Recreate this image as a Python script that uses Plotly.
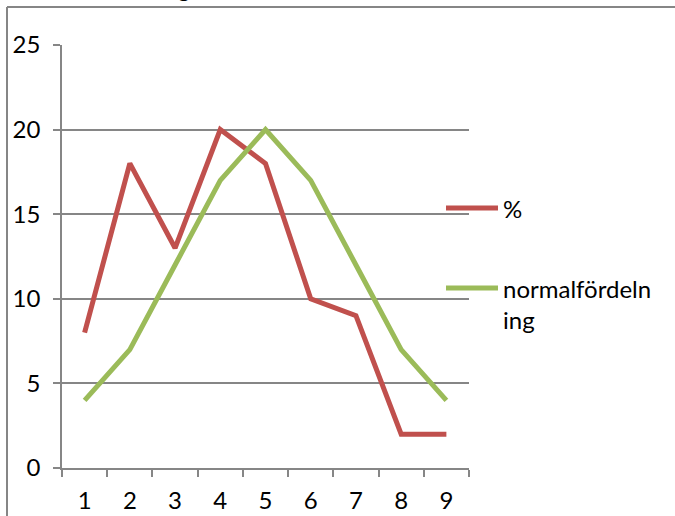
import plotly.graph_objects as go

categories = ["1", "2", "3", "4", "5", "6", "7", "8", "9"]
pct_values = [8, 18, 13, 20, 18, 10, 9, 2, 2]
normal_values = [4, 7, 12, 17, 20, 17, 12, 7, 4]
series_names = ["%", "normalfördeln<br>ing"]
title_text = "Fördelning"

RED = "#C0504D"
GREEN = "#9BBB59"
GRID = "#868686"
FONT = "Lato, Carlito, Calibri, sans-serif"
FS = 24
LW = 5

W, H = 675, 516
L, R, T, B = 62, 469, 45, 468

fig = go.Figure()
fig.add_trace(go.Scatter(x=categories, y=pct_values, mode="lines", name=series_names[0],
                         line=dict(color=RED, width=LW), showlegend=False))
fig.add_trace(go.Scatter(x=categories, y=normal_values, mode="lines", name=series_names[1],
                         line=dict(color=GREEN, width=LW), showlegend=False))

# pixel -> paper (paper is relative to plot area)
def px(x):
    return (x - L) / (R - L)
def py(y):
    return (B - y) / (B - T)

legend_items = [(series_names[0], RED, 208), (series_names[1], GREEN, 288)]
for name, color, yy in legend_items:
    fig.add_shape(type="line", xref="paper", yref="paper",
                  x0=px(446), x1=px(498), y0=py(yy), y1=py(yy),
                  line=dict(color=color, width=LW))
    fig.add_annotation(xref="paper", yref="paper", x=px(501), y=py(yy - 16),
                       xanchor="left", yanchor="top", text=name, showarrow=False,
                       align="left", font=dict(family=FONT, size=FS, color="#000000"))

# outer frame (left + top)
fig.add_shape(type="line", xref="paper", yref="paper", x0=px(7), x1=px(7), y0=py(H + 5), y1=py(7),
              line=dict(color=GRID, width=2))
fig.add_shape(type="line", xref="paper", yref="paper", x0=px(7), x1=px(W + 5), y0=py(7), y1=py(7),
              line=dict(color=GRID, width=2))

# cut-off title (only its descender is visible, as in the reference)
fig.add_annotation(xref="paper", yref="paper", x=px(192), y=py(-13), xanchor="right",
                   yanchor="middle", text=title_text, showarrow=False,
                   font=dict(family=FONT, size=FS, color="#000000"))

fig.update_layout(
    width=W, height=H,
    margin=dict(l=L, r=W - R, t=T, b=H - B, pad=0, autoexpand=False),
    paper_bgcolor="white", plot_bgcolor="white",
    font=dict(family=FONT, size=FS, color="#000000"),
    xaxis=dict(type="category", range=[-0.5, 8.5], tickson="boundaries", ticks="outside",
               ticklen=7, tickcolor=GRID, tickwidth=1.5, showgrid=False, showline=True,
               linecolor=GRID, linewidth=1.5, zeroline=False, automargin=False,
               ticklabelstandoff=10),
    yaxis=dict(range=[0, 25], dtick=5, ticks="outside", ticklen=7, tickcolor=GRID,
               tickwidth=1.5, showgrid=True, gridcolor=GRID, gridwidth=1.5,
               showline=True, linecolor=GRID, linewidth=1.5, zeroline=False,
               ticklabelstandoff=8, automargin=False),
    showlegend=False,
)

fig.write_html("out.html", config={"displayModeBar": False},
               post_script="document.body.style.margin='0';document.body.style.overflow='hidden';")
